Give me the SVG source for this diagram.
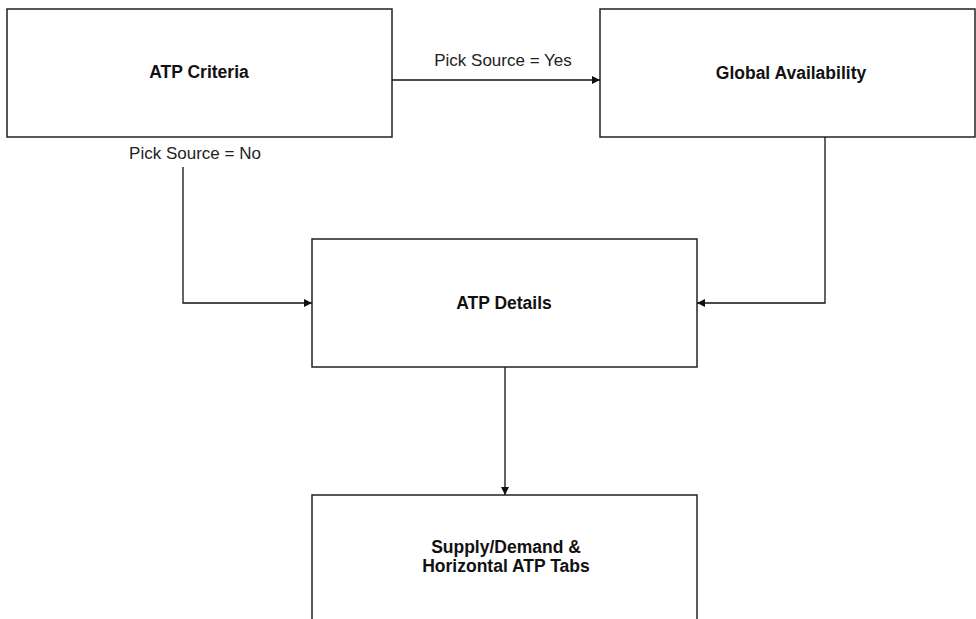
<svg xmlns="http://www.w3.org/2000/svg" width="976" height="619" viewBox="0 0 976 619">
<style>
.box{fill:#fff;stroke:#222;stroke-width:1.5}
.lbl{font-family:"Liberation Sans",Arial,sans-serif;font-size:17.5px;fill:#111;font-weight:bold;text-anchor:middle}
.edge{fill:none;stroke:#111;stroke-width:1.3}
.el{font-family:"Liberation Sans",Arial,sans-serif;font-size:17px;fill:#222;text-anchor:middle}
</style>
<defs>
<marker id="ah" viewBox="0 0 10 10" refX="10" refY="5" markerWidth="9" markerHeight="8" markerUnits="userSpaceOnUse" orient="auto">
<path d="M0,0 L10,5 L0,10 z" fill="#111"/>
</marker>
</defs>
<rect width="976" height="619" fill="#fff"/>
<g id="connectors">
<path class="edge" d="M392,80 H600" marker-end="url(#ah)"/>
<text class="el" x="503" y="66">Pick Source = Yes</text>
<path class="edge" d="M183,167 V303 H312" marker-end="url(#ah)"/>
<text class="el" x="195" y="159">Pick Source = No</text>
<path class="edge" d="M825,137 V303 H697" marker-end="url(#ah)"/>
<path class="edge" d="M505,367 V495" marker-end="url(#ah)"/>
</g>
<g id="atp-criteria">
<rect class="box" x="7" y="9" width="385" height="128"/>
<text class="lbl" x="199" y="78">ATP Criteria</text>
</g>
<g id="global-availability">
<rect class="box" x="600" y="9" width="375" height="128"/>
<text class="lbl" x="791" y="79">Global Availability</text>
</g>
<g id="atp-details">
<rect class="box" x="312" y="239" width="385" height="128"/>
<text class="lbl" x="504" y="309">ATP Details</text>
</g>
<g id="supply-demand">
<rect class="box" x="312" y="495" width="385" height="140"/>
<text class="lbl" x="506" y="553" font-size="15.5px">Supply/Demand &amp;</text>
<text class="lbl" x="506" y="572" font-size="15.5px">Horizontal ATP Tabs</text>
</g>
</svg>
